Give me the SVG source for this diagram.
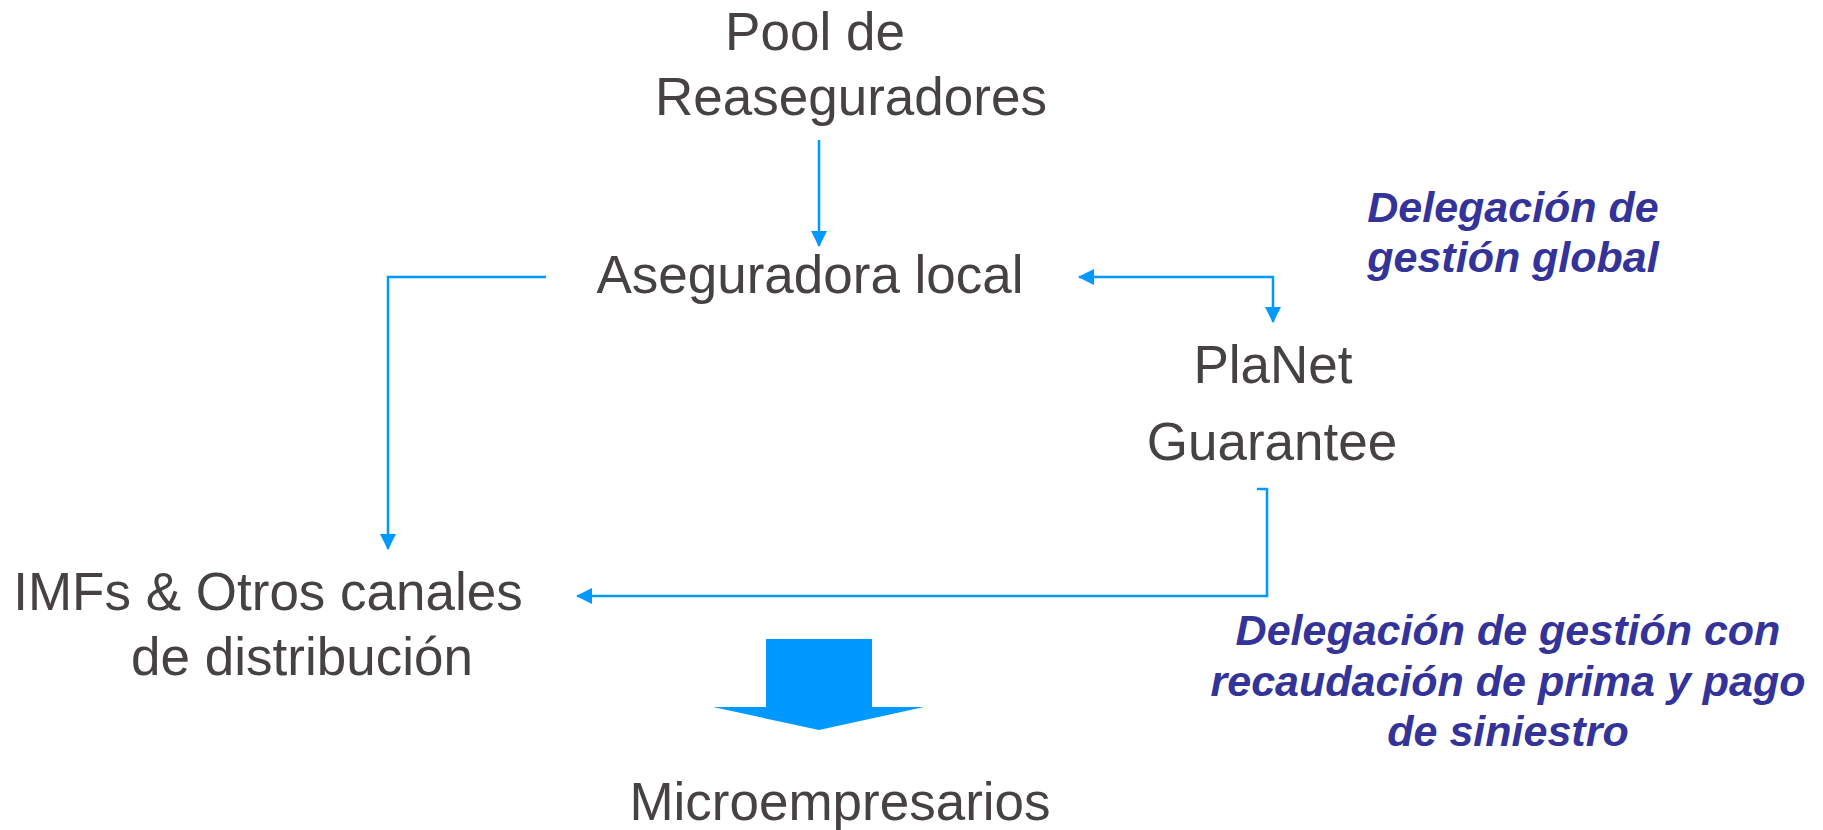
<svg xmlns="http://www.w3.org/2000/svg" width="1823" height="830" viewBox="0 0 1823 830">
<style>
.t{font-family:"Liberation Sans",Arial,sans-serif;font-size:53px;fill:#474242;text-anchor:middle}
.b{font-family:"Liberation Sans",Arial,sans-serif;font-size:43px;font-weight:bold;font-style:italic;fill:#333399;text-anchor:middle}
.c{fill:none;stroke:#0099FF;stroke-width:2.5}
</style>
<defs>
<marker id="ah" viewBox="0 0 16 16" refX="15" refY="8" markerWidth="16" markerHeight="16" markerUnits="userSpaceOnUse" orient="auto-start-reverse">
<path d="M0,0 L16,8 L0,16 Z" fill="#0099FF"/>
</marker>
</defs>
<rect width="1823" height="830" fill="#ffffff"/>
<g id="pool">
<text class="t" x="815" y="50">Pool de</text>
<text class="t" x="851" y="115">Reaseguradores</text>
</g>
<g id="aseguradora">
<text class="t" x="810" y="293">Aseguradora local</text>
</g>
<g id="planet">
<text class="t" x="1273" y="383">PlaNet</text>
<text class="t" x="1272" y="460">Guarantee</text>
</g>
<g id="imfs">
<text class="t" x="268" y="610">IMFs &amp; Otros canales</text>
<text class="t" x="302" y="675">de distribución</text>
</g>
<g id="micro">
<text class="t" x="840" y="820">Microempresarios</text>
</g>
<g id="label-global">
<text class="b" x="1513" y="222">Delegación de</text>
<text class="b" x="1513" y="272">gestión global</text>
</g>
<g id="label-recaudacion">
<text class="b" x="1508" y="645">Delegación de gestión con</text>
<text class="b" x="1508" y="696">recaudación de prima y pago</text>
<text class="b" x="1508" y="746">de siniestro</text>
</g>
<g id="connectors">
<path class="c" d="M819,140 V246" marker-end="url(#ah)"/>
<path class="c" d="M546,277 H388 V549" marker-end="url(#ah)"/>
<path class="c" d="M1079,277 H1273 V322" marker-start="url(#ah)" marker-end="url(#ah)"/>
<path class="c" d="M1257,489 H1267 V596 H577" marker-end="url(#ah)"/>
<polygon id="big-arrow" points="766,639 872,639 872,707 924,707 819,730 713,707 766,707" fill="#0099FF"/>
</g>
</svg>
